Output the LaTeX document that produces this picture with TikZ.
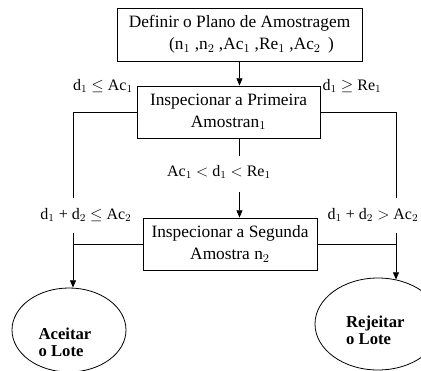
\documentclass[tikz,border=0pt]{standalone}
\usepackage{amsmath,amssymb}
\usepackage{fontspec}
\setmainfont{Liberation Serif}
\usepackage{tikz}
\usetikzlibrary{arrows.meta,positioning,shapes.geometric,calc}

\begin{document}
\begin{tikzpicture}[x=0.75pt,y=-0.75pt,>={Triangle[length=5.5pt,width=4.5pt]},line width=0.6pt,
    font=\fontsize{12}{16.5}\selectfont]
        \tikzstyle{etapa} = [rectangle, draw, inner sep=0pt, align=center, font=\fontsize{13}{16.5}\selectfont]
        \tikzstyle{lote} = [ellipse, draw, inner sep=0pt]
        \tikzstyle{lotetxt} = [align=left, font=\fontsize{12.5}{13}\selectfont\bfseries]
        \tikzstyle{cond} = [inner sep=1pt]

        \useasboundingbox (0,0) rectangle (421,371);
        \clip (0,0) rectangle (421,371);

        % Nodes
        \node[etapa, minimum width=183.75pt, minimum height=39.75pt] (plano) at (239.5,34.5)
            {Definir o Plano de Amostragem\\\hspace*{18pt}(n$_1$ ,n$_2$ ,Ac$_1$ ,Re$_1$ ,Ac$_2$ \,)};
        \node[etapa, minimum width=137.25pt, minimum height=39pt] (insp1) at (228.5,112)
            {Inspecionar a Primeira\\Amostran$_1$};
        \node[etapa, minimum width=130.5pt, minimum height=39pt] (insp2) at (230,244)
            {Inspecionar a Segunda\\Amostra n$_2$};
        \node[lote, minimum width=85.5pt, minimum height=63pt,
            label={[lotetxt, xshift=-3pt, yshift=-9pt]center:Aceitar\\o Lote}] (aceitar) at (69,330) {};
        \node[lote, minimum width=94.5pt, minimum height=69pt,
            label={[lotetxt, xshift=-2pt, yshift=-4.5pt]center:Rejeitar\\o Lote}] (rejeitar) at (378,324) {};

        % Conditions
        \node[cond] (ac1) at (103,86) {d$_1$ $\leq$ Ac$_1$};
        \node[cond] (re1) at (352,86) {d$_1$ $\geq$ Re$_1$};
        \node[cond] (meio) at (219,172) {Ac$_1$ $<$ d$_1$ $<$ Re$_1$};
        \node[cond] (ac2) at (86,215) {d$_1$ + d$_2$ $\leq$ Ac$_2$};
        \node[cond] (re2) at (373,215) {d$_1$ + d$_2$ $>$ Ac$_2$};

        \coordinate (l1) at (73,198);
        \coordinate (l2) at (73,233);
        \coordinate (r1) at (396,198);
        \coordinate (r2) at (396,233);
        \coordinate (m1) at (239.5,156);
        \coordinate (m2) at (239.5,192);

        % Edges
        \draw[->] (plano.south) -- (plano.south |- insp1.north);
        \draw (insp1.west) -| (l1);
        \draw (insp1.east) -| (r1);
        \draw (m1 |- insp1.south) -- (m1);
        \draw[->] (m2) -- (m2 |- insp2.north);
        \draw (insp2.west) -- (insp2.west -| l2) -- (l2);
        \draw (insp2.east) -- (insp2.east -| r2) -- (r2);
        \draw[->] (insp2.west -| l2) -- (l2 |- aceitar.north);
        \draw[->] (insp2.east -| r2) -- ($(r2 |- rejeitar.north)+(0,2)$);
    \end{tikzpicture}
\end{document}
